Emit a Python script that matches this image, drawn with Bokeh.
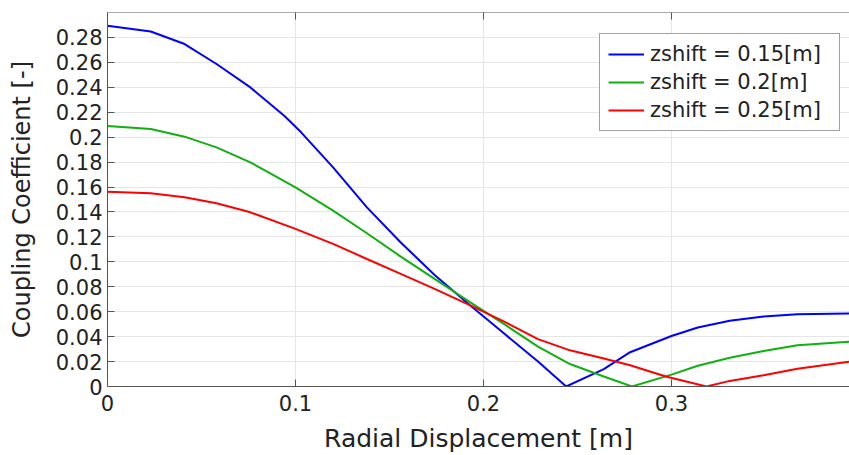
import math
from bokeh.plotting import figure
from bokeh.models import (Range1d, FixedTicker, CustomJSTickFormatter,
                          Legend, LegendItem, Span)
from bokeh.embed import file_html
from bokeh.resources import INLINE

# ---- data ----
x_max = 0.3947
y_max = 0.3
x_ticks = [0, 0.1, 0.2, 0.3]
y_ticks = [0, 0.02, 0.04, 0.06, 0.08, 0.1, 0.12, 0.14, 0.16, 0.18, 0.2, 0.22, 0.24, 0.26, 0.28]

series_names = ["zshift = 0.15[m]", "zshift = 0.2[m]", "zshift = 0.25[m]"]

x_015 = [0, 0.023, 0.041, 0.058, 0.076, 0.094, 0.103, 0.120, 0.138, 0.156, 0.174,
         0.193, 0.211, 0.229, 0.244, 0.264, 0.278, 0.300, 0.314, 0.331, 0.349, 0.367, 0.395]
y_015 = [0.2894, 0.2848, 0.2747, 0.2587, 0.2399, 0.2172, 0.2039, 0.1758, 0.1437, 0.1155, 0.0895,
         0.0650, 0.0425, 0.0200, 0.0, 0.0140, 0.0275, 0.0405, 0.0473, 0.0527, 0.0562, 0.0580, 0.0585]

x_020 = [0, 0.023, 0.041, 0.058, 0.076, 0.1, 0.120, 0.138, 0.156, 0.174, 0.193,
         0.211, 0.229, 0.246, 0.264, 0.279, 0.300, 0.314, 0.331, 0.349, 0.367, 0.395]
y_020 = [0.209, 0.2066, 0.2004, 0.1918, 0.1798, 0.1598, 0.1411, 0.1229, 0.1042, 0.0863, 0.0675,
         0.0500, 0.0320, 0.0180, 0.0080, 0.0, 0.0095, 0.0167, 0.0230, 0.0284, 0.0330, 0.0360]

x_025 = [0, 0.023, 0.041, 0.058, 0.076, 0.1, 0.120, 0.138, 0.156, 0.174, 0.193,
         0.211, 0.229, 0.246, 0.264, 0.278, 0.297, 0.3186, 0.331, 0.349, 0.367, 0.395]
y_025 = [0.1563, 0.155, 0.1518, 0.147, 0.1397, 0.1264, 0.1144, 0.1023, 0.0903, 0.0783, 0.0650,
         0.0520, 0.0380, 0.0290, 0.0225, 0.0170, 0.0080, 0.0, 0.0045, 0.0090, 0.0143, 0.0200]

colors = ["#0000ff", "#10b010", "#ff0000"]
FONT = "DejaVu Sans"
AX = "#555555"
TXT = "#222222"

p = figure(width=849, height=455, output_backend="svg", toolbar_location=None,
           x_range=Range1d(0, x_max), y_range=Range1d(0, y_max),
           min_border_left=107, min_border_right=0, min_border_top=12, min_border_bottom=69)
p.outline_line_color = None
p.background_fill_color = "white"

fmt = CustomJSTickFormatter(code="return tick.toFixed(2).replace(/0+$/, '').replace(/\\.$/, '');")

for ax in (p.xaxis, p.yaxis):
    ax.major_tick_in = 7
    ax.major_tick_out = 0
    ax.minor_tick_line_color = None
    ax.axis_line_color = AX
    ax.major_tick_line_color = AX
    ax.major_label_text_font = FONT
    ax.major_label_text_font_size = "21px"
    ax.major_label_text_color = TXT
    ax.axis_label_text_font = FONT
    ax.axis_label_text_font_style = "normal"
    ax.axis_label_text_color = TXT
    ax.formatter = fmt

p.xaxis.ticker = FixedTicker(ticks=x_ticks)
p.yaxis.ticker = FixedTicker(ticks=y_ticks)
p.xaxis.axis_label = "Radial Displacement [m]"
p.yaxis.axis_label = "Coupling Coefficient [-]"
p.xaxis.axis_label_text_font_size = "25px"
p.yaxis.axis_label_text_font_size = "24px"
p.xaxis.major_label_standoff = 8
p.xaxis.axis_label_standoff = 10
p.yaxis.major_label_standoff = 5
p.yaxis.axis_label_standoff = 17

p.xgrid.ticker = FixedTicker(ticks=x_ticks)
p.ygrid.ticker = FixedTicker(ticks=y_ticks)
p.grid.grid_line_color = "#e6e6e6"
p.grid.grid_line_width = 1

# top frame border with inward ticks
p.add_layout(Span(location=y_max, dimension="width", line_color=AX, line_width=1))
p.scatter(x_ticks, [y_max] * len(x_ticks), marker="dash", angle=math.pi / 2, size=14,
          line_color=AX, line_width=1)

r1 = p.line(x_015, y_015, line_color=colors[0], line_width=2)
r2 = p.line(x_020, y_020, line_color=colors[1], line_width=2)
r3 = p.line(x_025, y_025, line_color=colors[2], line_width=2)

legend = Legend(items=[LegendItem(label=series_names[0], renderers=[r1]),
                       LegendItem(label=series_names[1], renderers=[r2]),
                       LegendItem(label=series_names[2], renderers=[r3])],
                location=(492, 255), margin=0, padding=8, spacing=4,
                glyph_width=36, glyph_height=20, label_standoff=6,
                label_text_font=FONT, label_text_font_size="21px", label_text_color=TXT,
                label_width=181, border_line_color="#444444", border_line_width=1,
                background_fill_color="white", background_fill_alpha=1)
p.add_layout(legend, "center")

open("out.html", "w").write(file_html(p, INLINE))
